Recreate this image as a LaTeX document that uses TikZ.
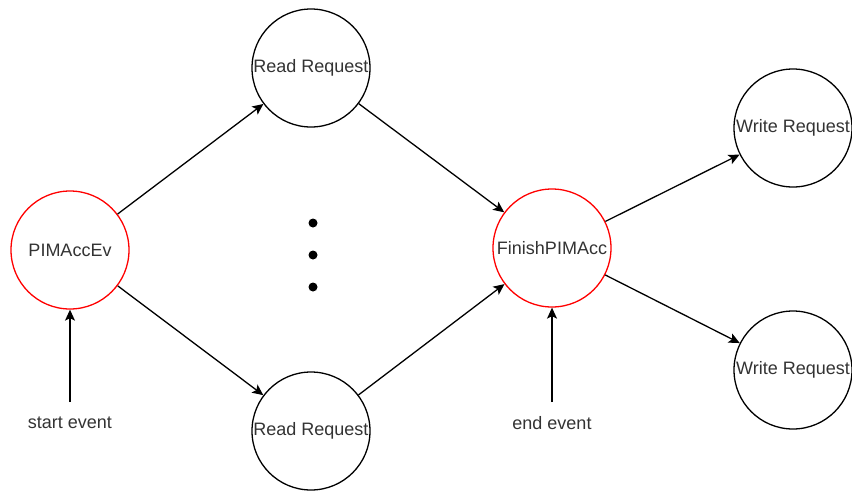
\documentclass[tikz,border=0pt]{standalone}
\usepackage{fontspec}
\setmainfont{Liberation Sans}
\usetikzlibrary{arrows.meta}
\begin{document}
\begin{tikzpicture}[x=1pt,y=-1pt,
  state/.style={circle,draw=black,line width=1.3pt,minimum size=118pt,inner sep=0pt,
    font=\fontsize{18}{21}\selectfont,text=black!80},
  event/.style={state,draw=red},
  lbl/.style={font=\fontsize{18}{21}\selectfont,text=black!80,inner sep=0pt},
  conn/.style={line width=1.3pt,-{Stealth[length=11pt,width=10pt,inset=2.5pt]}},
  dot/.style={circle,fill=black,minimum size=9pt,inner sep=0pt}]
\useasboundingbox (0,0) rectangle (852,491);
\node[event] (acc) at (70,250) {PIMAccEv};
\node[state] (rd1) at (311,68) {Read Request};
\node[state] (rd2) at (311,431) {Read Request};
\node[event] (fin) at (552,248) {FinishPIMAcc};
\node[state] (wr1) at (793,128) {Write Request};
\node[state] (wr2) at (793,370) {Write Request};
\node[dot] (d1) at (313,223) {};
\node[dot] (d2) at (313,255) {};
\node[dot] (d3) at (313,287) {};
\node[lbl] (start) at (70,423) {start event};
\node[lbl] (end) at (552,423) {end event};
\coordinate (s0) at (70,402);
\coordinate (e0) at (552,402);
\draw[conn] (acc) -- (rd1);
\draw[conn] (acc) -- (rd2);
\draw[conn] (rd1) -- (fin);
\draw[conn] (rd2) -- (fin);
\draw[conn] (fin) -- (wr1);
\draw[conn] (fin) -- (wr2);
\draw[conn] (s0) -- (acc);
\draw[conn] (e0) -- (fin);
\end{tikzpicture}
\end{document}
